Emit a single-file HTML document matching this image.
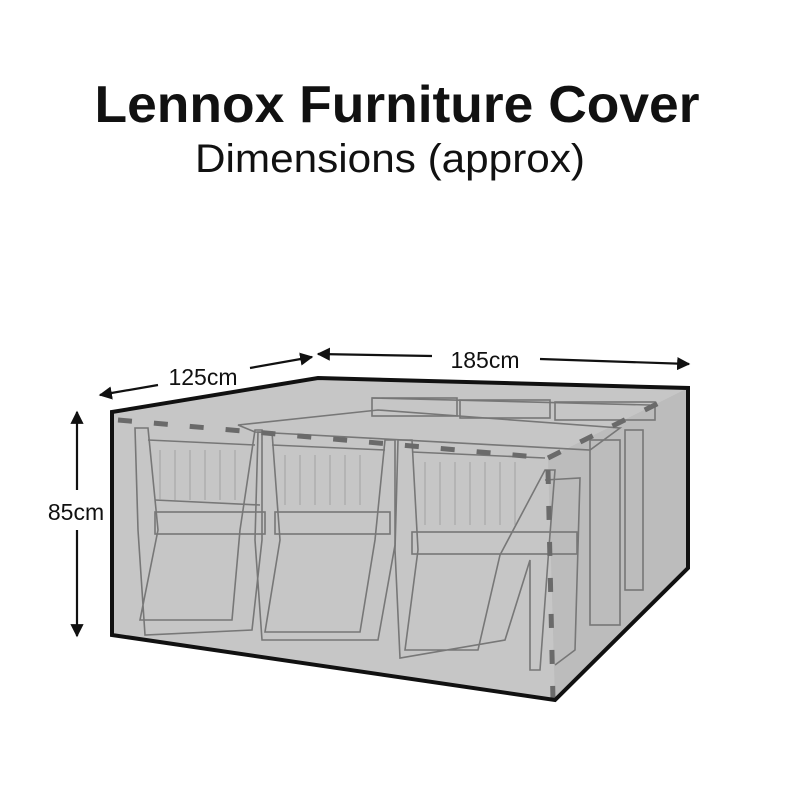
<!DOCTYPE html>
<html><head><style>
body{margin:0;background:#fff;width:800px;height:800px;overflow:hidden;font-family:"Liberation Sans",sans-serif}
</style></head><body>
<svg width="800" height="800" viewBox="0 0 800 800" xmlns="http://www.w3.org/2000/svg">
<defs>
<marker id="a" viewBox="0 0 10 10" refX="9" refY="5" markerWidth="6" markerHeight="6" orient="auto-start-reverse"><path d="M0,0 L10,5 L0,10 z" fill="#111"/></marker>
</defs>
<text x="397" y="122" text-anchor="middle" font-size="52" font-weight="bold" fill="#111" textLength="605" lengthAdjust="spacingAndGlyphs">Lennox Furniture Cover</text>
<text x="390" y="172" text-anchor="middle" font-size="40" fill="#111" textLength="390" lengthAdjust="spacingAndGlyphs">Dimensions (approx)</text>

<polygon points="112,412 318,378 688,388 688,568 555,700 112,635" fill="#c6c6c6"/>
<polygon points="548,458 688,388 688,568 555,700" fill="#bcbcbc"/>
<g fill="none" stroke="#777" stroke-width="1.6">
<polygon points="238,425 378,410 620,428 590,450 255,432"/>
<rect x="590" y="440" width="30" height="185"/>
<rect x="625" y="430" width="18" height="160"/>
<line x1="372" y1="398" x2="650" y2="405"/>
<path d="M135,428 L148,428 L158,530 L140,620 L232,620 L240,530 L255,430 L262,430 L262,540 L252,630 L145,635 L138,530 Z"/>
<line x1="148" y1="440" x2="255" y2="445"/>
<line x1="155" y1="500" x2="260" y2="505"/>
<rect x="155" y="512" width="110" height="22"/>
<path d="M258,432 L272,432 L280,540 L265,632 L360,632 L375,540 L385,440 L395,440 L395,545 L378,640 L262,640 L255,540 Z"/>
<line x1="272" y1="445" x2="385" y2="450"/>
<rect x="275" y="512" width="115" height="22"/>
<path d="M398,440 L412,440 L418,550 L405,650 L478,650 L500,555 L545,470 L555,470 L548,560 L540,670 L530,670 L530,560 L505,640 L400,658 L395,550 Z"/>
<line x1="412" y1="452" x2="545" y2="458"/>
<rect x="412" y="532" width="165" height="22"/>
<path d="M545,480 L580,478 L575,650 L555,665"/>
<rect x="372" y="398" width="85" height="18"/>
<rect x="460" y="400" width="90" height="18"/>
<rect x="555" y="402" width="100" height="18"/>
</g>
<g stroke="#9a9a9a" stroke-width="0.8">
<line x1="160" y1="450" x2="160" y2="500"/><line x1="175" y1="450" x2="175" y2="500"/><line x1="190" y1="450" x2="190" y2="500"/><line x1="205" y1="450" x2="205" y2="500"/><line x1="220" y1="450" x2="220" y2="500"/><line x1="235" y1="450" x2="235" y2="500"/>
<line x1="285" y1="455" x2="285" y2="505"/><line x1="300" y1="455" x2="300" y2="505"/><line x1="315" y1="455" x2="315" y2="505"/><line x1="330" y1="455" x2="330" y2="505"/><line x1="345" y1="455" x2="345" y2="505"/><line x1="360" y1="455" x2="360" y2="505"/>
<line x1="425" y1="462" x2="425" y2="525"/><line x1="440" y1="462" x2="440" y2="525"/><line x1="455" y1="462" x2="455" y2="525"/><line x1="470" y1="462" x2="470" y2="525"/><line x1="485" y1="462" x2="485" y2="525"/><line x1="500" y1="462" x2="500" y2="525"/><line x1="515" y1="462" x2="515" y2="525"/>
</g>
<g stroke="#6a6a6a" stroke-width="5" fill="none" stroke-dasharray="14,22">
<line x1="118" y1="420" x2="548" y2="458"/>
<line x1="548" y1="458" x2="675" y2="395"/>
<line x1="548" y1="470" x2="553" y2="700"/>
</g>
<polygon points="112,412 318,378 688,388 688,568 555,700 112,635" fill="none" stroke="#111" stroke-width="4"/>

<g stroke="#111" stroke-width="2.2" fill="none">
<line x1="158" y1="385" x2="100" y2="395" marker-end="url(#a)"/>
<line x1="250" y1="368" x2="312" y2="357" marker-end="url(#a)"/>
<line x1="432" y1="356" x2="318" y2="354" marker-end="url(#a)"/>
<line x1="540" y1="359" x2="689" y2="364" marker-end="url(#a)"/>
<line x1="77" y1="490" x2="77" y2="412" marker-end="url(#a)"/>
<line x1="77" y1="530" x2="77" y2="636" marker-end="url(#a)"/>
</g>
<text x="203" y="385" text-anchor="middle" font-size="23" fill="#111">125cm</text>
<text x="485" y="368" text-anchor="middle" font-size="23" fill="#111">185cm</text>
<text x="76" y="520" text-anchor="middle" font-size="23" fill="#111">85cm</text>
</svg>
</body></html>
